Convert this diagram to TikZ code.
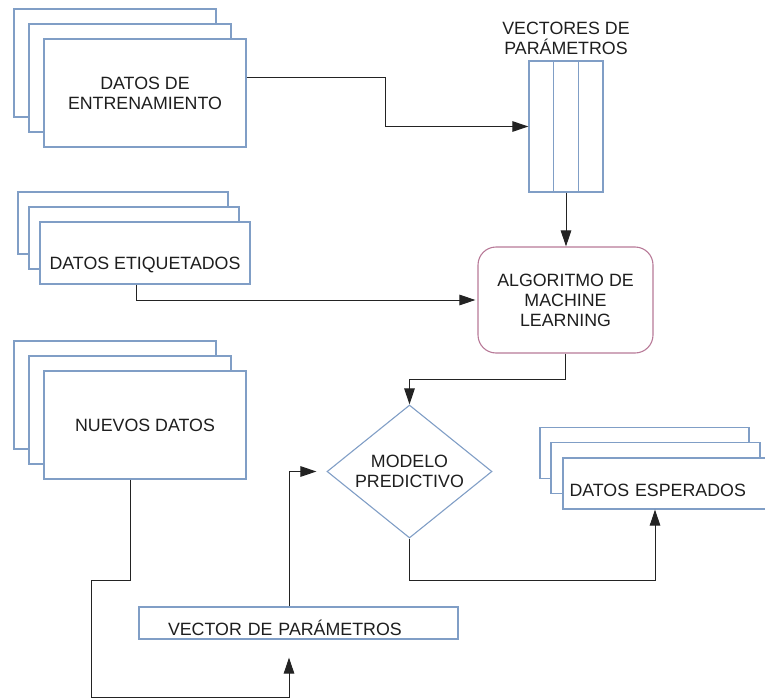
\documentclass[tikz,border=0pt]{standalone}
\usepackage{fontspec}
\setmainfont{Liberation Sans}
\usepackage{tikz}
\usetikzlibrary{shapes,arrows.meta,positioning,calc}
\definecolor{hojaBorde}{RGB}{128,158,198}
\definecolor{algBorde}{RGB}{184,122,152}
\definecolor{linea}{RGB}{35,35,35}
\definecolor{texto}{RGB}{30,30,30}

\begin{document}
\begin{tikzpicture}[
    x=1pt, y=-1pt,
    font=\fontsize{17.8}{20}\selectfont,
    hoja/.style={rectangle, draw=hojaBorde, line width=1.2pt, fill=white, text=texto, align=center},
    grande/.style={hoja, minimum width=202pt, minimum height=108pt},
    etiqueta/.style={hoja, minimum width=210pt, minimum height=62pt, text height=33pt, text depth=0pt},
    esperado/.style={hoja, minimum width=209pt, minimum height=51pt, text height=26pt, text depth=0pt, text width=196pt, align=left},
    alg/.style={rectangle, draw=algBorde, line width=1.1pt, fill=white, text=texto, align=center, rounded corners=18pt, minimum width=175pt, minimum height=106pt},
    rombo/.style={diamond, draw=hojaBorde, line width=1.1pt, text=texto, align=center, inner sep=0pt, aspect=1.24, minimum width=165pt, minimum height=133pt},
    arrow/.style={-{Triangle[length=16pt,width=10.5pt]}, draw=linea, line width=1pt}
]
\useasboundingbox (0,0) rectangle (765,698);

\node[grande] (entrenamiento3) at (115,63) {};
\node[grande] (entrenamiento2) at (130,78) {};
\node[grande] (entrenamiento) at (145,93) {DATOS DE\\ENTRENAMIENTO};

\node[etiqueta] (etiquetados3) at (123,223) {};
\node[etiqueta] (etiquetados2) at (134,238) {};
\node[etiqueta] (etiquetados) at (145,253) {DATOS ETIQUETADOS};

\node[grande] (nuevos3) at (115,395) {};
\node[grande] (nuevos2) at (130,410) {};
\node[grande] (nuevos) at (145,425) {NUEVOS DATOS};

\node[esperado] (esperados3) at (644.5,453) {};
\node[esperado] (esperados2) at (655.5,468) {};
\node[esperado] (esperados) at (667.5,483.5) {DATOS ESPERADOS};

\node[hoja, minimum width=74pt, minimum height=131pt] (vectores) at (566,126.5) {};
\draw[hojaBorde, line width=1.2pt] ($(vectores.north west)!1/3!(vectores.north east)$) -- ($(vectores.south west)!1/3!(vectores.south east)$);
\draw[hojaBorde, line width=1.2pt] ($(vectores.north west)!2/3!(vectores.north east)$) -- ($(vectores.south west)!2/3!(vectores.south east)$);
\node[text=texto, align=center, above=2pt of vectores] (vectoresTit) {VECTORES DE\\PARÁMETROS};

\node[alg] (algoritmo) at (565.5,300) {ALGORITMO DE\\MACHINE\\LEARNING};
\node[rombo] (modelo) at (409.5,471.5) {MODELO\\PREDICTIVO};
\node[hoja, minimum width=319pt, minimum height=32pt, inner ysep=0pt, text height=24.6pt, text depth=0pt, text width=261pt, align=left] (vectorPar) at (298.5,623) {VECTOR DE PARÁMETROS};

\draw[arrow] ([yshift=15pt]entrenamiento.east) -- ++(139,0) |- (vectores.west);
\draw[arrow] (vectores.south) -- (vectores.south |- algoritmo.north);
\draw[arrow, shorten >=2pt] ([xshift=-9pt]etiquetados.south) |- (algoritmo.west);
\draw[arrow] (algoritmo.south) -- ++(0,26) -| (modelo.north);
\draw[arrow] ([xshift=-15pt]nuevos.south) |- ++(-39,101) -- ++(0,117) -| ([xshift=-9.5pt,yshift=-18pt]vectorPar.south);
\draw[arrow, shorten >=10pt] ([xshift=-9.5pt]vectorPar.north) |- (modelo.west);
\draw[arrow] (modelo.south) -- ++(0,42) -| ([xshift=-12.5pt]esperados.south);

\end{tikzpicture}
\end{document}
